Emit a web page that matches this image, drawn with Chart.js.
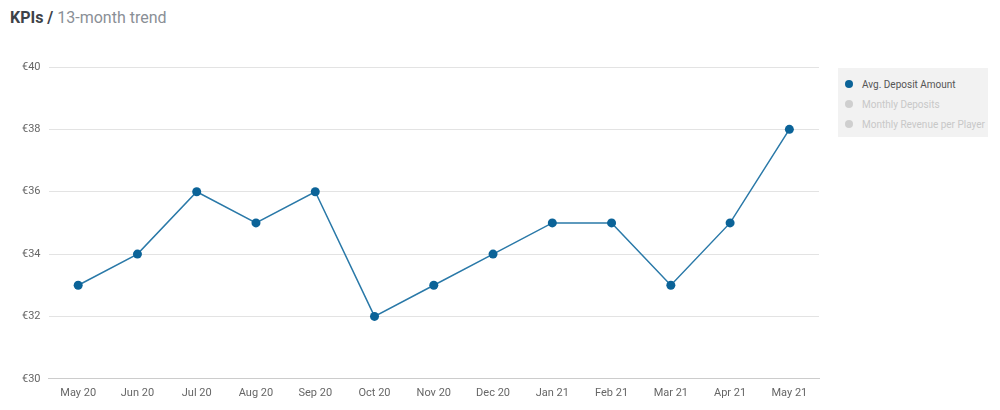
<!DOCTYPE html>
<html>
<head>
<meta charset="utf-8">
<script src="https://cdn.jsdelivr.net/npm/chart.js@4"></script>
<style>
  body { margin: 0; width: 1000px; height: 410px; background: #fff; font-family: Roboto, sans-serif; position: relative; overflow: hidden; }
  #titulo { position: absolute; left: 10px; top: 8px; font-size: 16px; color: #8a8f96; }
  #titulo b { color: #3d4248; }
  #wrap { position: absolute; left: 0; top: 40px; width: 825px; height: 360px; }
  #leyenda { position: absolute; left: 838px; top: 68px; width: 150px; height: 69px; background: #f2f2f2; box-sizing: border-box; padding: 6px 0 0 7px; font-size: 10px; white-space: nowrap; }
  #leyenda div { height: 20px; display: flex; align-items: center; }
  #leyenda span.dot { width: 8px; height: 8px; border-radius: 50%; margin-right: 9px; display: inline-block; flex: none; }
</style>
</head>
<body>
<div id="titulo"><b>KPIs /</b> 13-month trend</div>
<div id="wrap"><canvas id="grafico"></canvas></div>
<div id="leyenda"></div>
<script>
// Datos del gráfico
const meses = ["May 20", "Jun 20", "Jul 20", "Aug 20", "Sep 20", "Oct 20", "Nov 20", "Dec 20", "Jan 21", "Feb 21", "Mar 21", "Apr 21", "May 21"];
const depositoMedio = [33, 34, 36, 35, 36, 32, 33, 34, 35, 35, 33, 35, 38];
const series = ["Avg. Deposit Amount", "Monthly Deposits", "Monthly Revenue per Player"];
const seriesActivas = [true, false, false];

// Leyenda HTML
const leyenda = document.getElementById("leyenda");
series.forEach((nombre, i) => {
    const fila = document.createElement("div");
    fila.innerHTML = '<span class="dot" style="background:' + (seriesActivas[i] ? '#0b6398' : '#cfcfcf') + '"></span>' + nombre;
    fila.style.color = seriesActivas[i] ? '#555' : '#c8c8c8';
    leyenda.appendChild(fila);
});

const ctx = document.getElementById("grafico").getContext("2d");
new Chart(ctx, {
    type: "line",
    data: {
        labels: meses,
        datasets: [{
            label: series[0],
            data: depositoMedio,
            borderColor: "#2a79a8",
            backgroundColor: "#0b6398",
            borderWidth: 1.5,
            pointRadius: 4.5,
            pointBackgroundColor: "#0b6398",
            pointBorderWidth: 0,
            tension: 0
        }]
    },
    options: {
        responsive: true,
        maintainAspectRatio: false,
        animation: false,
        layout: { padding: { top: 27, right: 6, left: 14 } },
        plugins: { legend: { display: false }, tooltip: { enabled: false } },
        scales: {
            x: {
                offset: true,
                grid: { display: false },
                border: { color: "#ccc" },
                ticks: { color: "#666", font: { family: "Roboto", size: 11 }, padding: 0 }
            },
            y: {
                min: 30, max: 40,
                ticks: { stepSize: 2, color: "#666", font: { family: "Roboto", size: 11 }, callback: v => "€" + v, padding: 8 },
                grid: { color: "#e3e3e3", drawTicks: false },
                border: { display: false }
            }
        }
    }
});
</script>
</body>
</html>
